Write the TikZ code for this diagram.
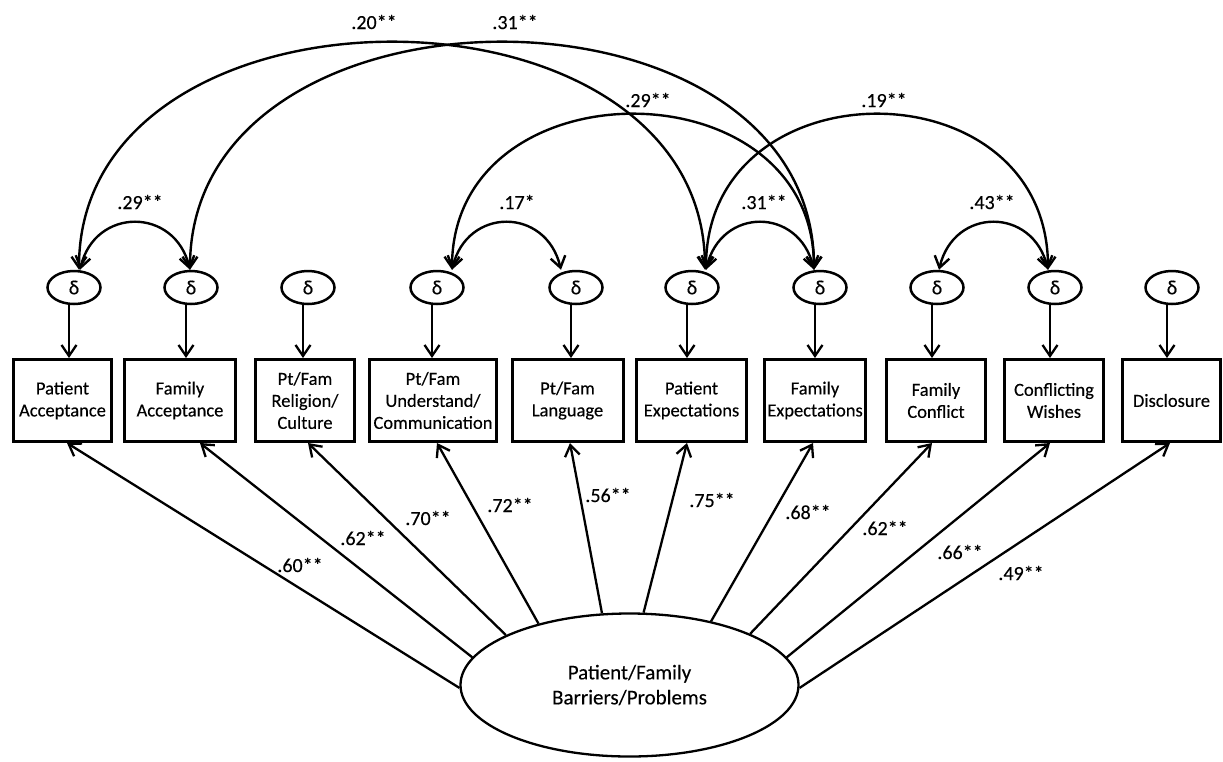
\documentclass[tikz,border=0pt]{standalone}
\usepackage{fontspec}
\setmainfont{Carlito}[BoldFont=Carlito,BoldFeatures={FakeBold=0.25}]
\usetikzlibrary{arrows.meta,shapes.geometric,calc}
\begin{document}
\begin{tikzpicture}[x=1pt,y=-1pt,
  every node/.append style={font=\bfseries},
  box/.style={draw,line width=3pt,minimum height=82pt,inner sep=0pt,align=center,font=\fontsize{18.5}{22}\selectfont\bfseries},
  err/.style={draw,ellipse,line width=2.5pt,minimum width=53pt,minimum height=33pt,inner sep=0pt,font=\fontsize{20}{22}\selectfont\bfseries},
  arr/.style={line width=2.3pt,-{Straight Barb[length=11pt,width=15pt]}},
  dbl/.style={line width=2.4pt,{Straight Barb[length=11pt,width=15pt]}-{Straight Barb[length=11pt,width=15pt]}},
  lab/.style={inner sep=0pt,font=\fontsize{20}{24}\selectfont\bfseries},
]
\useasboundingbox (0,0) rectangle (1223,761);

% observed variables
\node[box,minimum width=98pt]  (b1)  at (62.5,400.5)  {Patient\\Acceptance};
\node[box,minimum width=111pt] (b2)  at (180,400.5)   {Family\\Acceptance};
\node[box,minimum width=99pt]  (b3)  at (305,400.5)   {Pt/Fam\\Religion/\\Culture};
\node[box,minimum width=127pt] (b4)  at (433,400.5)   {Pt/Fam\\Understand/\\Communication};
\node[box,minimum width=111pt] (b5)  at (567.5,400.5) {Pt/Fam\\Language};
\node[box,minimum width=110pt] (b6)  at (691.5,400.5) {Patient\\Expectations};
\node[box,minimum width=101pt] (b7)  at (815,400.5)   {Family\\Expectations};
\node[box,minimum width=99pt]  (b8)  at (936,400.5)   {Family\\Conflict};
\node[box,minimum width=99pt]  (b9)  at (1054,400.5)  {Conflicting\\Wishes};
\node[box,minimum width=98pt]  (b10) at (1171.5,400.5){Disclosure};

% error terms
\node[err] (d1)  at (74,287.5)   {δ};
\node[err] (d2)  at (191,287.5)  {δ};
\node[err] (d3)  at (308,287.5)  {δ};
\node[err] (d4)  at (437,287.5)  {δ};
\node[err] (d5)  at (576,287.5)  {δ};
\node[err] (d6)  at (692,287.5)  {δ};
\node[err] (d7)  at (820,287.5)  {δ};
\node[err] (d8)  at (937,287.5)  {δ};
\node[err] (d9)  at (1055,287.5) {δ};
\node[err] (d10) at (1172,287.5) {δ};

\foreach \i in {1,...,10}{
  \draw[arr] ([xshift=-5pt]d\i.south) -- ([xshift=-5pt]d\i.south |- b\i.north);
}

% latent
\node[draw,ellipse,line width=2.3pt,minimum width=338pt,minimum height=143pt,inner sep=0pt,align=center,font=\fontsize{21}{25}\selectfont\bfseries] (lat) at (629.5,685) {Patient/Family\\Barriers/Problems};

% loadings
\draw[arr] (lat.181)   -- ([xshift=4.5pt]b1.south);
\draw[arr] (lat.170.2) -- ([xshift=20pt]b2.south);
\draw[arr] (lat.158.4) -- ([xshift=3pt]b3.south);
\draw[arr] (lat.146.7) -- ([xshift=4pt]b4.south);
\draw[arr] (lat.111.5) -- ([xshift=2.5pt]b5.south);
\draw[arr] (lat.79)    -- ([xshift=-4.5pt]b6.south);
\draw[arr] (lat.38.7)  -- ([xshift=-2pt]b7.south);
\draw[arr] (lat.23.4)  -- ([xshift=-4pt]b8.south);
\draw[arr] (lat.10)    -- ([xshift=-4pt]b9.south);
\draw[arr] (lat.359)   -- ([xshift=-1.5pt]b10.south);

\node[lab] (l1)  at (300,565)  {.60**};
\node[lab] (l2)  at (363,538)  {.62**};
\node[lab] (l3)  at (428,518)  {.70**};
\node[lab] (l4)  at (510,505)  {.72**};
\node[lab] (l5)  at (608,495)  {.56**};
\node[lab] (l6)  at (712,500)  {.75**};
\node[lab] (l7)  at (808,512)  {.68**};
\node[lab] (l8)  at (885,528)  {.62**};
\node[lab] (l9)  at (960,552)  {.66**};
\node[lab] (l10) at (1021,573) {.49**};

% covariances
\draw[dbl] ([xshift=5pt]d1.north) .. controls +(0,-303) and +(0,-303) .. ([xshift=13pt]d6.north);
\draw[dbl] ([xshift=-1pt]d2.north) .. controls +(0,-303) and +(0,-303) .. ([xshift=-6pt]d7.north);
\draw[dbl] ([xshift=15pt]d4.north) .. controls +(0,-207) and +(0,-207) .. ([xshift=-6pt]d7.north);
\draw[dbl] ([xshift=14pt]d6.north) .. controls +(0,-207) and +(0,-207) .. ([xshift=-7pt]d9.north);
\draw[dbl] ([xshift=6pt]d1.north) .. controls +(15,-63) and +(-15,-63) .. ([xshift=-1pt]d2.north);
\draw[dbl] ([xshift=15pt]d4.north) .. controls +(15,-63) and +(-15,-63) .. ([xshift=-15pt]d5.north);
\draw[dbl] ([xshift=14pt]d6.north) .. controls +(15,-63) and +(-15,-63) .. ([xshift=-6pt]d7.north);
\draw[dbl] ([xshift=2pt]d8.north) .. controls +(15,-63) and +(-15,-63) .. ([xshift=-7pt]d9.north);

\node[lab] (c1) at (374,22)  {.20**};
\node[lab] (c2) at (515,22)  {.31**};
\node[lab] (c3) at (648,100) {.29**};
\node[lab] (c4) at (884,100) {.19**};
\node[lab] (c5) at (140,202) {.29**};
\node[lab] (c6) at (517,202) {.17*};
\node[lab] (c7) at (764,202) {.31**};
\node[lab] (c8) at (992,202) {.43**};
\end{tikzpicture}
\end{document}
